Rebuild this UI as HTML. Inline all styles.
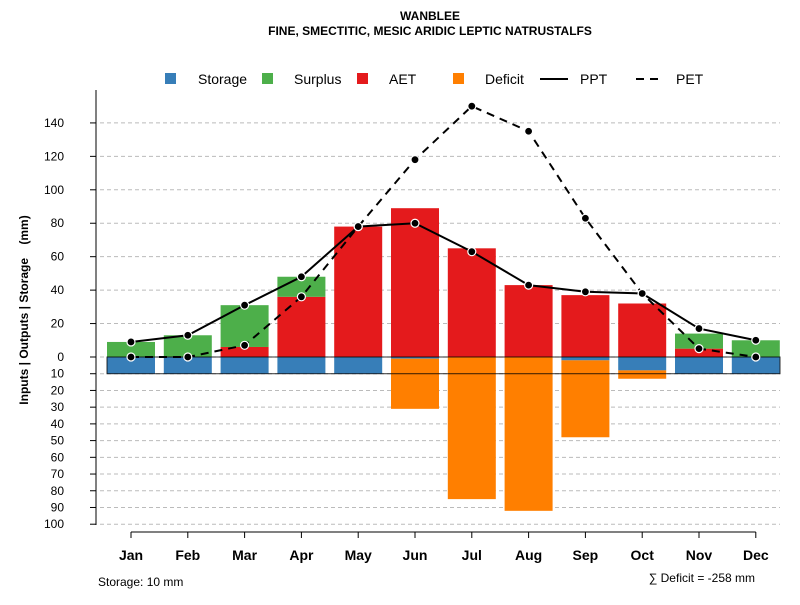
<!DOCTYPE html>
<html><head><meta charset="utf-8"><style>
body{margin:0;background:#fff}
svg{font-family:"Liberation Sans",sans-serif}
</style></head><body>
<svg id="chart" width="800" height="600" xmlns="http://www.w3.org/2000/svg">
<text x="430" y="20" text-anchor="middle" font-size="12" font-weight="bold">WANBLEE</text>
<text x="430" y="35" text-anchor="middle" font-size="12" font-weight="bold">FINE, SMECTITIC, MESIC ARIDIC LEPTIC NATRUSTALFS</text>
<g id="legend">
<rect x="165" y="73" width="11" height="11" fill="#377eb8"/><text x="198" y="84" font-size="14">Storage</text>
<rect x="262" y="73" width="11" height="11" fill="#4daf4a"/><text x="294" y="84" font-size="14">Surplus</text>
<rect x="357" y="73" width="11" height="11" fill="#e41a1c"/><text x="389" y="84" font-size="14">AET</text>
<rect x="453" y="73" width="11" height="11" fill="#ff7f00"/><text x="485" y="84" font-size="14">Deficit</text>
<line x1="540" y1="79" x2="568" y2="79" stroke="#000" stroke-width="2"/><text x="580" y="84" font-size="14">PPT</text>
<line x1="636" y1="79" x2="664" y2="79" stroke="#000" stroke-width="2" stroke-dasharray="8,6"/><text x="676" y="84" font-size="14">PET</text>
</g>
<text transform="translate(28,310) rotate(-90)" text-anchor="middle" font-size="12" font-weight="bold" style="white-space:pre">Inputs | Outputs | Storage    (mm)</text>
<text x="98" y="586" font-size="12">Storage: 10 mm</text>
<text x="755" y="582" text-anchor="end" font-size="12">∑ Deficit = -258 mm</text>
<g id="plot"></g>
</svg>
<script>
const months=["Jan","Feb","Mar","Apr","May","Jun","Jul","Aug","Sep","Oct","Nov","Dec"];
const aet=[0,0,6,36,78,89,65,43,37,32,5,0];
const surplus=[9,13,25,12,0,0,0,0,0,0,9,10];
const storage=[10,10,10,10,10,1,0,0,2,8,10,10];
const deficit=[0,0,0,0,0,30,85,92,46,5,0,0];
const ppt=[9,13,31,48,78,80,63,43,39,38,17,10];
const pet=[0,0,7,36,78,118,150,135,83,38,5,0];
const posTicks=[0,20,40,60,80,100,120,140];
const negTicks=[10,20,30,40,50,60,70,80,90,100];
const NS="http://www.w3.org/2000/svg";
const g=document.getElementById("plot");
const y=v=>357-v*1.672;
const x=i=>131+i*56.8;
const bw=48;
function mk(t,a){const e=document.createElementNS(NS,t);for(const k in a)e.setAttribute(k,a[k]);g.appendChild(e);return e;}
posTicks.forEach(t=>{
 const l=mk("line",{x1:100,x2:780,y1:y(t),y2:y(t),stroke:"#bbb","stroke-dasharray":"4,3"});
 
 
 const tk=mk("line",{x1:90,x2:96,y1:y(t),y2:y(t),stroke:"#000"});
 
 
 const tx=mk("text",{x:64,y:y(t)+4,"text-anchor":"end","font-size":12});tx.textContent=t;
 
 
});
negTicks.forEach(t=>{
 const l=mk("line",{x1:100,x2:780,y1:y(-t),y2:y(-t),stroke:"#bbb","stroke-dasharray":"4,3"});
 
 
 const tk=mk("line",{x1:90,x2:96,y1:y(-t),y2:y(-t),stroke:"#000"});
 
 
 const tx=mk("text",{x:64,y:y(-t)+4,"text-anchor":"end","font-size":12});tx.textContent=t;
 
 
});
const ax=mk("line",{x1:96,x2:96,y1:90,y2:525,stroke:"#000"});


const bx=mk("line",{x1:x(0),x2:x(11),y1:532,y2:532,stroke:"#000"});


months.forEach((m,i)=>{
 const tk=mk("line",{x1:x(i),x2:x(i),y1:532,y2:538,stroke:"#000"});
 
 
 const t=mk("text",{x:x(i),y:560,"text-anchor":"middle","font-size":14,"font-weight":"bold"});t.textContent=m;
 
 
});
months.forEach((m,i)=>{
 const L=x(i)-bw/2;
 function bar(v0,v1,c,n){const top=Math.max(y(v0),y(v1)),bot=Math.min(y(v0),y(v1));
  const r=mk("rect",{x:L,y:bot,width:bw,height:Math.abs(top-bot),fill:c});
  
  }
 bar(0,aet[i],"#e41a1c","bar-aet-"+m.toLowerCase());
 bar(aet[i],aet[i]+surplus[i],"#4daf4a","bar-surplus-"+m.toLowerCase());
 bar(0,-storage[i],"#377eb8","bar-storage-"+m.toLowerCase());
 bar(-storage[i],-storage[i]-deficit[i],"#ff7f00","bar-deficit-"+m.toLowerCase());
});
const sb=mk("rect",{x:107,y:y(0),width:673,height:y(-10)-y(0),fill:"none",stroke:"#000","stroke-opacity":0.8});


function line(arr,dash,n){
 const p=mk("polyline",{points:arr.map((v,i)=>x(i)+","+y(v)).join(" "),fill:"none",stroke:"#000","stroke-width":2,"stroke-dasharray":dash});
 
 
 arr.forEach((v,i)=>{const c=mk("circle",{cx:x(i),cy:y(v),r:4,fill:"#000",stroke:"#fff","stroke-width":1.2});
  
  });
}
line(ppt,"none","ppt-line");
line(pet,"8,6","pet-line");
</script>
</body></html>
